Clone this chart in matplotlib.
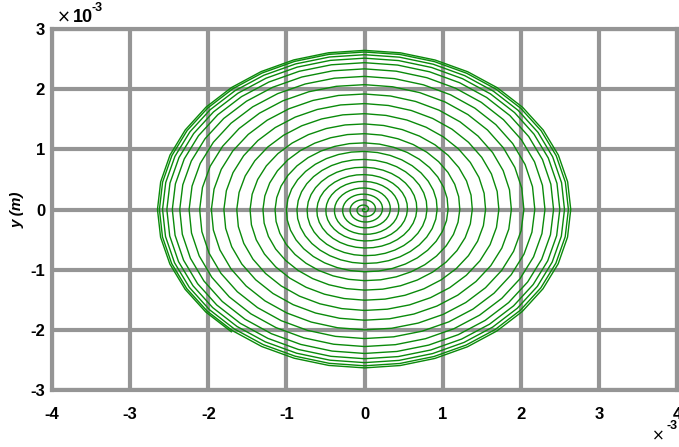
import numpy as np
import matplotlib
matplotlib.use("Agg")
import matplotlib.pyplot as plt

plt.rcParams['font.family'] = ['Liberation Sans', 'DejaVu Sans']
plt.rcParams['axes.unicode_minus'] = False

# radius of the spiral (x 10^-3 m) each time it crosses the +x axis
turn_radius = [0.00, 0.05, 0.14, 0.23, 0.33, 0.44, 0.55, 0.67, 0.80, 0.93,
               1.07, 1.22, 1.38, 1.55, 1.72, 1.88, 2.04, 2.18, 2.31, 2.42,
               2.50, 2.56, 2.61, 2.64, 2.66]
end_angle_deg = 245      # where the outer end of the curve stops
pts_per_turn = 36

x_ticks = [-4, -3, -2, -1, 0, 1, 2, 3, 4]
y_ticks = [-3, -2, -1, 0, 1, 2, 3]

# build the curve turn by turn
xs, ys = [], []
n_turns = len(turn_radius) - 1
for k in range(n_turns):
    r0, r1 = turn_radius[k], turn_radius[k + 1]
    last = (k == n_turns - 1)
    npts = int(pts_per_turn * end_angle_deg / 360) if last else pts_per_turn
    for i in range(npts):
        f = i / pts_per_turn
        th = 2 * np.pi * f
        r = r0 + (r1 - r0) * f
        xs.append(r * np.cos(th))
        ys.append(r * np.sin(th))

fig = plt.figure(figsize=(6.79, 4.47), dpi=100)
ax = fig.add_axes([52 / 679, 1 - 390 / 447, 625 / 679, 361 / 447])

ax.plot(xs, ys, color='#0a8a0a', lw=1.0, zorder=3)

ax.set_xlim(-4, 4)
ax.set_ylim(-3, 3)
ax.set_xticks(x_ticks)
ax.set_yticks(y_ticks)
ax.set_xticklabels([str(t) for t in x_ticks], fontweight='bold', fontsize=12)
ax.set_yticklabels([str(t) for t in y_ticks], fontweight='bold', fontsize=12)
ax.tick_params(length=0)
ax.tick_params(axis='x', pad=12)
ax.tick_params(axis='y', pad=5)
ax.grid(True, color='#959595', lw=3.0, zorder=1)
ax.set_axisbelow(True)
for s in ax.spines.values():
    s.set_color('#959595')
    s.set_linewidth(3.0)

ax.set_ylabel('y (m)', fontweight='bold', fontstyle='italic', fontsize=11, labelpad=4)

fig.text(57 / 679, 1 - 18 / 447, '\u00d7', fontsize=12, va='center', ha='left',
         family='DejaVu Sans')
fig.text(73 / 679, 1 - 18 / 447, '10', fontsize=13, fontweight='bold', va='center', ha='left')
fig.text(92 / 679, 1 - 8 / 447, '-3', fontsize=9, fontweight='bold', va='center', ha='left')
fig.text(652 / 679, 1 - 436 / 447, '\u00d7', fontsize=11, va='center', ha='left',
         family='DejaVu Sans')
fig.text(678 / 679, 1 - 426 / 447, '-3', fontsize=9, fontweight='bold', va='center', ha='right')

fig.savefig('out.png', dpi=100)
